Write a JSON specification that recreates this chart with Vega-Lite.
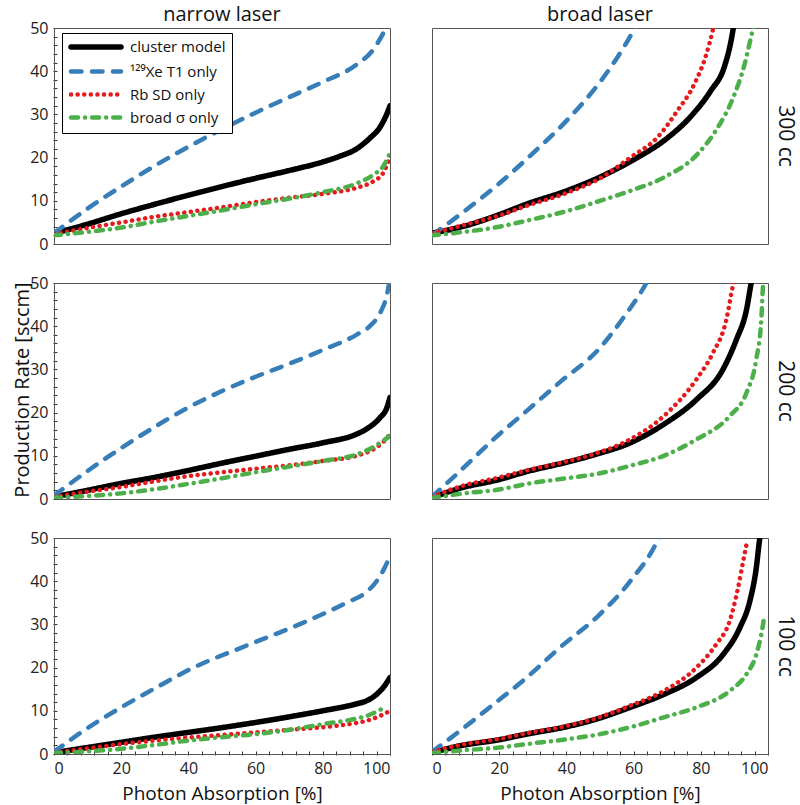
{
"$schema":"https://vega.github.io/schema/vega-lite/v6.json",
"padding":{"left":12,"top":5,"right":10,"bottom":5},
"background":"white",
"title":{"text":"Production Rate [sccm]","orient":"left","anchor":"middle","fontSize":20,"fontWeight":"normal","font":"Open Sans","color":"#111","offset":-3,"dx":14},
"data":{"values":[
{"laser":"narrow laser","cell":"300 cc","model":"cluster model","x":0,"y":2.5},
{"laser":"narrow laser","cell":"300 cc","model":"cluster model","x":5,"y":3.5},
{"laser":"narrow laser","cell":"300 cc","model":"cluster model","x":10,"y":4.6},
{"laser":"narrow laser","cell":"300 cc","model":"cluster model","x":20,"y":7},
{"laser":"narrow laser","cell":"300 cc","model":"cluster model","x":30,"y":9.2},
{"laser":"narrow laser","cell":"300 cc","model":"cluster model","x":40,"y":11.3},
{"laser":"narrow laser","cell":"300 cc","model":"cluster model","x":50,"y":13.3},
{"laser":"narrow laser","cell":"300 cc","model":"cluster model","x":60,"y":15.2},
{"laser":"narrow laser","cell":"300 cc","model":"cluster model","x":70,"y":17},
{"laser":"narrow laser","cell":"300 cc","model":"cluster model","x":80,"y":19},
{"laser":"narrow laser","cell":"300 cc","model":"cluster model","x":85,"y":20.3},
{"laser":"narrow laser","cell":"300 cc","model":"cluster model","x":90,"y":22},
{"laser":"narrow laser","cell":"300 cc","model":"cluster model","x":94,"y":24.5},
{"laser":"narrow laser","cell":"300 cc","model":"cluster model","x":97,"y":27},
{"laser":"narrow laser","cell":"300 cc","model":"cluster model","x":99,"y":30},
{"laser":"narrow laser","cell":"300 cc","model":"cluster model","x":100,"y":32},
{"laser":"narrow laser","cell":"300 cc","model":"¹²⁹Xe T1 only","x":0,"y":2.5},
{"laser":"narrow laser","cell":"300 cc","model":"¹²⁹Xe T1 only","x":10,"y":8.2},
{"laser":"narrow laser","cell":"300 cc","model":"¹²⁹Xe T1 only","x":20,"y":13.3},
{"laser":"narrow laser","cell":"300 cc","model":"¹²⁹Xe T1 only","x":30,"y":18.1},
{"laser":"narrow laser","cell":"300 cc","model":"¹²⁹Xe T1 only","x":40,"y":22.5},
{"laser":"narrow laser","cell":"300 cc","model":"¹²⁹Xe T1 only","x":50,"y":26.6},
{"laser":"narrow laser","cell":"300 cc","model":"¹²⁹Xe T1 only","x":60,"y":30.4},
{"laser":"narrow laser","cell":"300 cc","model":"¹²⁹Xe T1 only","x":70,"y":34},
{"laser":"narrow laser","cell":"300 cc","model":"¹²⁹Xe T1 only","x":80,"y":37.5},
{"laser":"narrow laser","cell":"300 cc","model":"¹²⁹Xe T1 only","x":90,"y":41.5},
{"laser":"narrow laser","cell":"300 cc","model":"¹²⁹Xe T1 only","x":95,"y":45},
{"laser":"narrow laser","cell":"300 cc","model":"¹²⁹Xe T1 only","x":98,"y":48.8},
{"laser":"narrow laser","cell":"300 cc","model":"¹²⁹Xe T1 only","x":100,"y":52},
{"laser":"narrow laser","cell":"300 cc","model":"Rb SD only","x":0,"y":2.3},
{"laser":"narrow laser","cell":"300 cc","model":"Rb SD only","x":10,"y":3.7},
{"laser":"narrow laser","cell":"300 cc","model":"Rb SD only","x":20,"y":5},
{"laser":"narrow laser","cell":"300 cc","model":"Rb SD only","x":30,"y":6.3},
{"laser":"narrow laser","cell":"300 cc","model":"Rb SD only","x":40,"y":7.4},
{"laser":"narrow laser","cell":"300 cc","model":"Rb SD only","x":50,"y":8.5},
{"laser":"narrow laser","cell":"300 cc","model":"Rb SD only","x":60,"y":9.7},
{"laser":"narrow laser","cell":"300 cc","model":"Rb SD only","x":70,"y":10.7},
{"laser":"narrow laser","cell":"300 cc","model":"Rb SD only","x":80,"y":11.6},
{"laser":"narrow laser","cell":"300 cc","model":"Rb SD only","x":90,"y":13},
{"laser":"narrow laser","cell":"300 cc","model":"Rb SD only","x":95,"y":14.5},
{"laser":"narrow laser","cell":"300 cc","model":"Rb SD only","x":98,"y":16.5},
{"laser":"narrow laser","cell":"300 cc","model":"Rb SD only","x":100,"y":20},
{"laser":"narrow laser","cell":"300 cc","model":"broad σ only","x":0,"y":2},
{"laser":"narrow laser","cell":"300 cc","model":"broad σ only","x":10,"y":2.8},
{"laser":"narrow laser","cell":"300 cc","model":"broad σ only","x":20,"y":3.8},
{"laser":"narrow laser","cell":"300 cc","model":"broad σ only","x":30,"y":5.2},
{"laser":"narrow laser","cell":"300 cc","model":"broad σ only","x":40,"y":6.5},
{"laser":"narrow laser","cell":"300 cc","model":"broad σ only","x":50,"y":7.8},
{"laser":"narrow laser","cell":"300 cc","model":"broad σ only","x":60,"y":9.2},
{"laser":"narrow laser","cell":"300 cc","model":"broad σ only","x":70,"y":10.5},
{"laser":"narrow laser","cell":"300 cc","model":"broad σ only","x":80,"y":12},
{"laser":"narrow laser","cell":"300 cc","model":"broad σ only","x":90,"y":14},
{"laser":"narrow laser","cell":"300 cc","model":"broad σ only","x":95,"y":16},
{"laser":"narrow laser","cell":"300 cc","model":"broad σ only","x":98,"y":18},
{"laser":"narrow laser","cell":"300 cc","model":"broad σ only","x":100,"y":21},

{"laser":"broad laser","cell":"300 cc","model":"cluster model","x":0,"y":2.5},
{"laser":"broad laser","cell":"300 cc","model":"cluster model","x":8,"y":3.8},
{"laser":"broad laser","cell":"300 cc","model":"cluster model","x":20,"y":6.8},
{"laser":"broad laser","cell":"300 cc","model":"cluster model","x":28,"y":9.2},
{"laser":"broad laser","cell":"300 cc","model":"cluster model","x":40,"y":12.3},
{"laser":"broad laser","cell":"300 cc","model":"cluster model","x":50,"y":15.5},
{"laser":"broad laser","cell":"300 cc","model":"cluster model","x":60,"y":19.5},
{"laser":"broad laser","cell":"300 cc","model":"cluster model","x":70,"y":24.5},
{"laser":"broad laser","cell":"300 cc","model":"cluster model","x":77,"y":29.5},
{"laser":"broad laser","cell":"300 cc","model":"cluster model","x":83,"y":35.5},
{"laser":"broad laser","cell":"300 cc","model":"cluster model","x":87,"y":41},
{"laser":"broad laser","cell":"300 cc","model":"cluster model","x":89,"y":47},
{"laser":"broad laser","cell":"300 cc","model":"cluster model","x":90,"y":51.5},
{"laser":"broad laser","cell":"300 cc","model":"¹²⁹Xe T1 only","x":0,"y":2},
{"laser":"broad laser","cell":"300 cc","model":"¹²⁹Xe T1 only","x":10,"y":7.8},
{"laser":"broad laser","cell":"300 cc","model":"¹²⁹Xe T1 only","x":20,"y":14},
{"laser":"broad laser","cell":"300 cc","model":"¹²⁹Xe T1 only","x":30,"y":21},
{"laser":"broad laser","cell":"300 cc","model":"¹²⁹Xe T1 only","x":40,"y":28.5},
{"laser":"broad laser","cell":"300 cc","model":"¹²⁹Xe T1 only","x":50,"y":37.5},
{"laser":"broad laser","cell":"300 cc","model":"¹²⁹Xe T1 only","x":55,"y":43},
{"laser":"broad laser","cell":"300 cc","model":"¹²⁹Xe T1 only","x":60,"y":49.5},
{"laser":"broad laser","cell":"300 cc","model":"¹²⁹Xe T1 only","x":61,"y":51},
{"laser":"broad laser","cell":"300 cc","model":"Rb SD only","x":0,"y":2.5},
{"laser":"broad laser","cell":"300 cc","model":"Rb SD only","x":10,"y":4.5},
{"laser":"broad laser","cell":"300 cc","model":"Rb SD only","x":20,"y":6.6},
{"laser":"broad laser","cell":"300 cc","model":"Rb SD only","x":28,"y":8.8},
{"laser":"broad laser","cell":"300 cc","model":"Rb SD only","x":40,"y":11.8},
{"laser":"broad laser","cell":"300 cc","model":"Rb SD only","x":50,"y":15.2},
{"laser":"broad laser","cell":"300 cc","model":"Rb SD only","x":59,"y":20},
{"laser":"broad laser","cell":"300 cc","model":"Rb SD only","x":67,"y":24.6},
{"laser":"broad laser","cell":"300 cc","model":"Rb SD only","x":73,"y":30.8},
{"laser":"broad laser","cell":"300 cc","model":"Rb SD only","x":78,"y":36.9},
{"laser":"broad laser","cell":"300 cc","model":"Rb SD only","x":81.6,"y":43.8},
{"laser":"broad laser","cell":"300 cc","model":"Rb SD only","x":83.6,"y":49.6},
{"laser":"broad laser","cell":"300 cc","model":"Rb SD only","x":84,"y":51},
{"laser":"broad laser","cell":"300 cc","model":"broad σ only","x":0,"y":2},
{"laser":"broad laser","cell":"300 cc","model":"broad σ only","x":8.4,"y":2.7},
{"laser":"broad laser","cell":"300 cc","model":"broad σ only","x":20,"y":4},
{"laser":"broad laser","cell":"300 cc","model":"broad σ only","x":28.2,"y":5.4},
{"laser":"broad laser","cell":"300 cc","model":"broad σ only","x":40,"y":7.6},
{"laser":"broad laser","cell":"300 cc","model":"broad σ only","x":50,"y":10},
{"laser":"broad laser","cell":"300 cc","model":"broad σ only","x":59,"y":12.3},
{"laser":"broad laser","cell":"300 cc","model":"broad σ only","x":69,"y":15.4},
{"laser":"broad laser","cell":"300 cc","model":"broad σ only","x":79,"y":20.8},
{"laser":"broad laser","cell":"300 cc","model":"broad σ only","x":85,"y":26.9},
{"laser":"broad laser","cell":"300 cc","model":"broad σ only","x":89.6,"y":33.8},
{"laser":"broad laser","cell":"300 cc","model":"broad σ only","x":93,"y":41.5},
{"laser":"broad laser","cell":"300 cc","model":"broad σ only","x":95.5,"y":49.6},
{"laser":"broad laser","cell":"300 cc","model":"broad σ only","x":96,"y":51},

{"laser":"narrow laser","cell":"200 cc","model":"cluster model","x":0,"y":0.5},
{"laser":"narrow laser","cell":"200 cc","model":"cluster model","x":10,"y":2},
{"laser":"narrow laser","cell":"200 cc","model":"cluster model","x":20,"y":3.6},
{"laser":"narrow laser","cell":"200 cc","model":"cluster model","x":30,"y":5},
{"laser":"narrow laser","cell":"200 cc","model":"cluster model","x":40,"y":6.6},
{"laser":"narrow laser","cell":"200 cc","model":"cluster model","x":50,"y":8.3},
{"laser":"narrow laser","cell":"200 cc","model":"cluster model","x":60,"y":9.9},
{"laser":"narrow laser","cell":"200 cc","model":"cluster model","x":70,"y":11.5},
{"laser":"narrow laser","cell":"200 cc","model":"cluster model","x":80,"y":13},
{"laser":"narrow laser","cell":"200 cc","model":"cluster model","x":90,"y":15},
{"laser":"narrow laser","cell":"200 cc","model":"cluster model","x":93,"y":16.2},
{"laser":"narrow laser","cell":"200 cc","model":"cluster model","x":97,"y":18.8},
{"laser":"narrow laser","cell":"200 cc","model":"cluster model","x":99,"y":21},
{"laser":"narrow laser","cell":"200 cc","model":"cluster model","x":100,"y":23.5},
{"laser":"narrow laser","cell":"200 cc","model":"¹²⁹Xe T1 only","x":0,"y":0.8},
{"laser":"narrow laser","cell":"200 cc","model":"¹²⁹Xe T1 only","x":10,"y":6.5},
{"laser":"narrow laser","cell":"200 cc","model":"¹²⁹Xe T1 only","x":20,"y":11.8},
{"laser":"narrow laser","cell":"200 cc","model":"¹²⁹Xe T1 only","x":30,"y":16.7},
{"laser":"narrow laser","cell":"200 cc","model":"¹²⁹Xe T1 only","x":40,"y":21.2},
{"laser":"narrow laser","cell":"200 cc","model":"¹²⁹Xe T1 only","x":50,"y":25},
{"laser":"narrow laser","cell":"200 cc","model":"¹²⁹Xe T1 only","x":60,"y":28.3},
{"laser":"narrow laser","cell":"200 cc","model":"¹²⁹Xe T1 only","x":70,"y":31.3},
{"laser":"narrow laser","cell":"200 cc","model":"¹²⁹Xe T1 only","x":80,"y":34.5},
{"laser":"narrow laser","cell":"200 cc","model":"¹²⁹Xe T1 only","x":90,"y":38},
{"laser":"narrow laser","cell":"200 cc","model":"¹²⁹Xe T1 only","x":94,"y":40},
{"laser":"narrow laser","cell":"200 cc","model":"¹²⁹Xe T1 only","x":97,"y":43},
{"laser":"narrow laser","cell":"200 cc","model":"¹²⁹Xe T1 only","x":99,"y":47},
{"laser":"narrow laser","cell":"200 cc","model":"¹²⁹Xe T1 only","x":100,"y":51},
{"laser":"narrow laser","cell":"200 cc","model":"Rb SD only","x":0,"y":0.5},
{"laser":"narrow laser","cell":"200 cc","model":"Rb SD only","x":10,"y":1.7},
{"laser":"narrow laser","cell":"200 cc","model":"Rb SD only","x":20,"y":2.8},
{"laser":"narrow laser","cell":"200 cc","model":"Rb SD only","x":30,"y":4.1},
{"laser":"narrow laser","cell":"200 cc","model":"Rb SD only","x":40,"y":5.3},
{"laser":"narrow laser","cell":"200 cc","model":"Rb SD only","x":50,"y":6.2},
{"laser":"narrow laser","cell":"200 cc","model":"Rb SD only","x":60,"y":7},
{"laser":"narrow laser","cell":"200 cc","model":"Rb SD only","x":70,"y":7.8},
{"laser":"narrow laser","cell":"200 cc","model":"Rb SD only","x":80,"y":8.8},
{"laser":"narrow laser","cell":"200 cc","model":"Rb SD only","x":90,"y":10},
{"laser":"narrow laser","cell":"200 cc","model":"Rb SD only","x":95,"y":11.5},
{"laser":"narrow laser","cell":"200 cc","model":"Rb SD only","x":98,"y":13.2},
{"laser":"narrow laser","cell":"200 cc","model":"Rb SD only","x":100,"y":15},
{"laser":"narrow laser","cell":"200 cc","model":"broad σ only","x":0,"y":0.3},
{"laser":"narrow laser","cell":"200 cc","model":"broad σ only","x":10,"y":0.7},
{"laser":"narrow laser","cell":"200 cc","model":"broad σ only","x":20,"y":1.3},
{"laser":"narrow laser","cell":"200 cc","model":"broad σ only","x":30,"y":2.3},
{"laser":"narrow laser","cell":"200 cc","model":"broad σ only","x":40,"y":3.5},
{"laser":"narrow laser","cell":"200 cc","model":"broad σ only","x":50,"y":4.8},
{"laser":"narrow laser","cell":"200 cc","model":"broad σ only","x":60,"y":6.2},
{"laser":"narrow laser","cell":"200 cc","model":"broad σ only","x":70,"y":7.5},
{"laser":"narrow laser","cell":"200 cc","model":"broad σ only","x":80,"y":8.8},
{"laser":"narrow laser","cell":"200 cc","model":"broad σ only","x":90,"y":10.3},
{"laser":"narrow laser","cell":"200 cc","model":"broad σ only","x":95,"y":12},
{"laser":"narrow laser","cell":"200 cc","model":"broad σ only","x":98,"y":13.5},
{"laser":"narrow laser","cell":"200 cc","model":"broad σ only","x":100,"y":14.6},

{"laser":"broad laser","cell":"200 cc","model":"cluster model","x":0,"y":0.3},
{"laser":"broad laser","cell":"200 cc","model":"cluster model","x":8.4,"y":2.5},
{"laser":"broad laser","cell":"200 cc","model":"cluster model","x":20,"y":4.5},
{"laser":"broad laser","cell":"200 cc","model":"cluster model","x":28,"y":6.3},
{"laser":"broad laser","cell":"200 cc","model":"cluster model","x":40,"y":8.5},
{"laser":"broad laser","cell":"200 cc","model":"cluster model","x":49,"y":10.4},
{"laser":"broad laser","cell":"200 cc","model":"cluster model","x":59,"y":13},
{"laser":"broad laser","cell":"200 cc","model":"cluster model","x":69,"y":17.3},
{"laser":"broad laser","cell":"200 cc","model":"cluster model","x":78.7,"y":23},
{"laser":"broad laser","cell":"200 cc","model":"cluster model","x":86.6,"y":30},
{"laser":"broad laser","cell":"200 cc","model":"cluster model","x":90.6,"y":36.9},
{"laser":"broad laser","cell":"200 cc","model":"cluster model","x":93.6,"y":43.8},
{"laser":"broad laser","cell":"200 cc","model":"cluster model","x":95,"y":50},
{"laser":"broad laser","cell":"200 cc","model":"cluster model","x":95.5,"y":52},
{"laser":"broad laser","cell":"200 cc","model":"¹²⁹Xe T1 only","x":0,"y":0.5},
{"laser":"broad laser","cell":"200 cc","model":"¹²⁹Xe T1 only","x":8.4,"y":6.5},
{"laser":"broad laser","cell":"200 cc","model":"¹²⁹Xe T1 only","x":18.3,"y":13.8},
{"laser":"broad laser","cell":"200 cc","model":"¹²⁹Xe T1 only","x":28.2,"y":20.4},
{"laser":"broad laser","cell":"200 cc","model":"¹²⁹Xe T1 only","x":38,"y":27},
{"laser":"broad laser","cell":"200 cc","model":"¹²⁹Xe T1 only","x":50,"y":35},
{"laser":"broad laser","cell":"200 cc","model":"¹²⁹Xe T1 only","x":57,"y":42},
{"laser":"broad laser","cell":"200 cc","model":"¹²⁹Xe T1 only","x":63.8,"y":50},
{"laser":"broad laser","cell":"200 cc","model":"¹²⁹Xe T1 only","x":64.5,"y":51},
{"laser":"broad laser","cell":"200 cc","model":"Rb SD only","x":0,"y":0.5},
{"laser":"broad laser","cell":"200 cc","model":"Rb SD only","x":8.4,"y":2.9},
{"laser":"broad laser","cell":"200 cc","model":"Rb SD only","x":20,"y":5},
{"laser":"broad laser","cell":"200 cc","model":"Rb SD only","x":28,"y":6.6},
{"laser":"broad laser","cell":"200 cc","model":"Rb SD only","x":40,"y":8.7},
{"laser":"broad laser","cell":"200 cc","model":"Rb SD only","x":49,"y":10.6},
{"laser":"broad laser","cell":"200 cc","model":"Rb SD only","x":59,"y":13.8},
{"laser":"broad laser","cell":"200 cc","model":"Rb SD only","x":69,"y":19.2},
{"laser":"broad laser","cell":"200 cc","model":"Rb SD only","x":78.7,"y":27.7},
{"laser":"broad laser","cell":"200 cc","model":"Rb SD only","x":83.6,"y":33.8},
{"laser":"broad laser","cell":"200 cc","model":"Rb SD only","x":87.6,"y":41.5},
{"laser":"broad laser","cell":"200 cc","model":"Rb SD only","x":89.6,"y":49.6},
{"laser":"broad laser","cell":"200 cc","model":"Rb SD only","x":90,"y":51},
{"laser":"broad laser","cell":"200 cc","model":"broad σ only","x":0,"y":0.2},
{"laser":"broad laser","cell":"200 cc","model":"broad σ only","x":8.4,"y":1.2},
{"laser":"broad laser","cell":"200 cc","model":"broad σ only","x":20,"y":2.2},
{"laser":"broad laser","cell":"200 cc","model":"broad σ only","x":28.2,"y":3.5},
{"laser":"broad laser","cell":"200 cc","model":"broad σ only","x":40,"y":4.8},
{"laser":"broad laser","cell":"200 cc","model":"broad σ only","x":49,"y":5.8},
{"laser":"broad laser","cell":"200 cc","model":"broad σ only","x":59,"y":7.7},
{"laser":"broad laser","cell":"200 cc","model":"broad σ only","x":69,"y":10},
{"laser":"broad laser","cell":"200 cc","model":"broad σ only","x":78.7,"y":13.8},
{"laser":"broad laser","cell":"200 cc","model":"broad σ only","x":88.6,"y":19.2},
{"laser":"broad laser","cell":"200 cc","model":"broad σ only","x":93.6,"y":24.6},
{"laser":"broad laser","cell":"200 cc","model":"broad σ only","x":96.5,"y":32.3},
{"laser":"broad laser","cell":"200 cc","model":"broad σ only","x":98,"y":41.5},
{"laser":"broad laser","cell":"200 cc","model":"broad σ only","x":98.5,"y":49.2},
{"laser":"broad laser","cell":"200 cc","model":"broad σ only","x":98.7,"y":51},

{"laser":"narrow laser","cell":"100 cc","model":"cluster model","x":0,"y":0.3},
{"laser":"narrow laser","cell":"100 cc","model":"cluster model","x":10,"y":1.5},
{"laser":"narrow laser","cell":"100 cc","model":"cluster model","x":20,"y":2.7},
{"laser":"narrow laser","cell":"100 cc","model":"cluster model","x":30,"y":3.9},
{"laser":"narrow laser","cell":"100 cc","model":"cluster model","x":40,"y":5},
{"laser":"narrow laser","cell":"100 cc","model":"cluster model","x":50,"y":6.1},
{"laser":"narrow laser","cell":"100 cc","model":"cluster model","x":60,"y":7.3},
{"laser":"narrow laser","cell":"100 cc","model":"cluster model","x":70,"y":8.6},
{"laser":"narrow laser","cell":"100 cc","model":"cluster model","x":80,"y":10},
{"laser":"narrow laser","cell":"100 cc","model":"cluster model","x":90,"y":11.6},
{"laser":"narrow laser","cell":"100 cc","model":"cluster model","x":93,"y":12.3},
{"laser":"narrow laser","cell":"100 cc","model":"cluster model","x":96,"y":13.8},
{"laser":"narrow laser","cell":"100 cc","model":"cluster model","x":98,"y":15.4},
{"laser":"narrow laser","cell":"100 cc","model":"cluster model","x":100,"y":17.7},
{"laser":"narrow laser","cell":"100 cc","model":"¹²⁹Xe T1 only","x":0,"y":0.5},
{"laser":"narrow laser","cell":"100 cc","model":"¹²⁹Xe T1 only","x":10,"y":6},
{"laser":"narrow laser","cell":"100 cc","model":"¹²⁹Xe T1 only","x":20,"y":10.8},
{"laser":"narrow laser","cell":"100 cc","model":"¹²⁹Xe T1 only","x":30,"y":15.2},
{"laser":"narrow laser","cell":"100 cc","model":"¹²⁹Xe T1 only","x":41,"y":19.8},
{"laser":"narrow laser","cell":"100 cc","model":"¹²⁹Xe T1 only","x":57,"y":25},
{"laser":"narrow laser","cell":"100 cc","model":"¹²⁹Xe T1 only","x":73,"y":30},
{"laser":"narrow laser","cell":"100 cc","model":"¹²⁹Xe T1 only","x":87,"y":35},
{"laser":"narrow laser","cell":"100 cc","model":"¹²⁹Xe T1 only","x":93,"y":37.5},
{"laser":"narrow laser","cell":"100 cc","model":"¹²⁹Xe T1 only","x":96,"y":40},
{"laser":"narrow laser","cell":"100 cc","model":"¹²⁹Xe T1 only","x":98,"y":42.5},
{"laser":"narrow laser","cell":"100 cc","model":"¹²⁹Xe T1 only","x":99.5,"y":45},
{"laser":"narrow laser","cell":"100 cc","model":"¹²⁹Xe T1 only","x":100,"y":46},
{"laser":"narrow laser","cell":"100 cc","model":"Rb SD only","x":0,"y":0.3},
{"laser":"narrow laser","cell":"100 cc","model":"Rb SD only","x":10,"y":1.3},
{"laser":"narrow laser","cell":"100 cc","model":"Rb SD only","x":20,"y":2.3},
{"laser":"narrow laser","cell":"100 cc","model":"Rb SD only","x":30,"y":3.1},
{"laser":"narrow laser","cell":"100 cc","model":"Rb SD only","x":40,"y":3.8},
{"laser":"narrow laser","cell":"100 cc","model":"Rb SD only","x":50,"y":4.4},
{"laser":"narrow laser","cell":"100 cc","model":"Rb SD only","x":60,"y":5},
{"laser":"narrow laser","cell":"100 cc","model":"Rb SD only","x":70,"y":5.6},
{"laser":"narrow laser","cell":"100 cc","model":"Rb SD only","x":80,"y":6.2},
{"laser":"narrow laser","cell":"100 cc","model":"Rb SD only","x":90,"y":7.2},
{"laser":"narrow laser","cell":"100 cc","model":"Rb SD only","x":93,"y":7.7},
{"laser":"narrow laser","cell":"100 cc","model":"Rb SD only","x":97,"y":8.8},
{"laser":"narrow laser","cell":"100 cc","model":"Rb SD only","x":100,"y":10},
{"laser":"narrow laser","cell":"100 cc","model":"broad σ only","x":0,"y":0.2},
{"laser":"narrow laser","cell":"100 cc","model":"broad σ only","x":10,"y":0.6},
{"laser":"narrow laser","cell":"100 cc","model":"broad σ only","x":20,"y":1.2},
{"laser":"narrow laser","cell":"100 cc","model":"broad σ only","x":30,"y":2.1},
{"laser":"narrow laser","cell":"100 cc","model":"broad σ only","x":40,"y":3.1},
{"laser":"narrow laser","cell":"100 cc","model":"broad σ only","x":50,"y":3.9},
{"laser":"narrow laser","cell":"100 cc","model":"broad σ only","x":60,"y":4.6},
{"laser":"narrow laser","cell":"100 cc","model":"broad σ only","x":70,"y":5.6},
{"laser":"narrow laser","cell":"100 cc","model":"broad σ only","x":80,"y":6.9},
{"laser":"narrow laser","cell":"100 cc","model":"broad σ only","x":90,"y":8.2},
{"laser":"narrow laser","cell":"100 cc","model":"broad σ only","x":93,"y":8.8},
{"laser":"narrow laser","cell":"100 cc","model":"broad σ only","x":97,"y":10.2},
{"laser":"narrow laser","cell":"100 cc","model":"broad σ only","x":98.5,"y":10.8},

{"laser":"broad laser","cell":"100 cc","model":"cluster model","x":0,"y":0.3},
{"laser":"broad laser","cell":"100 cc","model":"cluster model","x":8.4,"y":1.9},
{"laser":"broad laser","cell":"100 cc","model":"cluster model","x":20,"y":3.3},
{"laser":"broad laser","cell":"100 cc","model":"cluster model","x":28.2,"y":4.6},
{"laser":"broad laser","cell":"100 cc","model":"cluster model","x":40,"y":6.3},
{"laser":"broad laser","cell":"100 cc","model":"cluster model","x":49,"y":8.1},
{"laser":"broad laser","cell":"100 cc","model":"cluster model","x":59,"y":10.8},
{"laser":"broad laser","cell":"100 cc","model":"cluster model","x":69,"y":13.8},
{"laser":"broad laser","cell":"100 cc","model":"cluster model","x":78.7,"y":17.7},
{"laser":"broad laser","cell":"100 cc","model":"cluster model","x":86.6,"y":23},
{"laser":"broad laser","cell":"100 cc","model":"cluster model","x":91.6,"y":29.2},
{"laser":"broad laser","cell":"100 cc","model":"cluster model","x":94.6,"y":35.4},
{"laser":"broad laser","cell":"100 cc","model":"cluster model","x":96.5,"y":43},
{"laser":"broad laser","cell":"100 cc","model":"cluster model","x":97.5,"y":49.6},
{"laser":"broad laser","cell":"100 cc","model":"cluster model","x":98,"y":52},
{"laser":"broad laser","cell":"100 cc","model":"¹²⁹Xe T1 only","x":0,"y":0.5},
{"laser":"broad laser","cell":"100 cc","model":"¹²⁹Xe T1 only","x":8.4,"y":5.4},
{"laser":"broad laser","cell":"100 cc","model":"¹²⁹Xe T1 only","x":18.3,"y":11.5},
{"laser":"broad laser","cell":"100 cc","model":"¹²⁹Xe T1 only","x":28.2,"y":17.7},
{"laser":"broad laser","cell":"100 cc","model":"¹²⁹Xe T1 only","x":38,"y":24.6},
{"laser":"broad laser","cell":"100 cc","model":"¹²⁹Xe T1 only","x":49.5,"y":32},
{"laser":"broad laser","cell":"100 cc","model":"¹²⁹Xe T1 only","x":59,"y":40},
{"laser":"broad laser","cell":"100 cc","model":"¹²⁹Xe T1 only","x":67.2,"y":49.6},
{"laser":"broad laser","cell":"100 cc","model":"¹²⁹Xe T1 only","x":68,"y":51},
{"laser":"broad laser","cell":"100 cc","model":"Rb SD only","x":0,"y":0.5},
{"laser":"broad laser","cell":"100 cc","model":"Rb SD only","x":8.4,"y":2.1},
{"laser":"broad laser","cell":"100 cc","model":"Rb SD only","x":20,"y":3.5},
{"laser":"broad laser","cell":"100 cc","model":"Rb SD only","x":28.2,"y":4.8},
{"laser":"broad laser","cell":"100 cc","model":"Rb SD only","x":40,"y":6.5},
{"laser":"broad laser","cell":"100 cc","model":"Rb SD only","x":49,"y":8.3},
{"laser":"broad laser","cell":"100 cc","model":"Rb SD only","x":59,"y":11.2},
{"laser":"broad laser","cell":"100 cc","model":"Rb SD only","x":69,"y":14.6},
{"laser":"broad laser","cell":"100 cc","model":"Rb SD only","x":78.7,"y":20},
{"laser":"broad laser","cell":"100 cc","model":"Rb SD only","x":84.6,"y":25.4},
{"laser":"broad laser","cell":"100 cc","model":"Rb SD only","x":88.6,"y":30.8},
{"laser":"broad laser","cell":"100 cc","model":"Rb SD only","x":91.1,"y":38.5},
{"laser":"broad laser","cell":"100 cc","model":"Rb SD only","x":92.6,"y":44.6},
{"laser":"broad laser","cell":"100 cc","model":"Rb SD only","x":93.6,"y":48.5},
{"laser":"broad laser","cell":"100 cc","model":"broad σ only","x":0,"y":0.2},
{"laser":"broad laser","cell":"100 cc","model":"broad σ only","x":8.4,"y":0.8},
{"laser":"broad laser","cell":"100 cc","model":"broad σ only","x":20,"y":1.5},
{"laser":"broad laser","cell":"100 cc","model":"broad σ only","x":28.2,"y":2.3},
{"laser":"broad laser","cell":"100 cc","model":"broad σ only","x":40,"y":3.4},
{"laser":"broad laser","cell":"100 cc","model":"broad σ only","x":50,"y":4.6},
{"laser":"broad laser","cell":"100 cc","model":"broad σ only","x":59,"y":6.2},
{"laser":"broad laser","cell":"100 cc","model":"broad σ only","x":69,"y":8.5},
{"laser":"broad laser","cell":"100 cc","model":"broad σ only","x":78.7,"y":10.8},
{"laser":"broad laser","cell":"100 cc","model":"broad σ only","x":88.6,"y":14.6},
{"laser":"broad laser","cell":"100 cc","model":"broad σ only","x":93.6,"y":18.5},
{"laser":"broad laser","cell":"100 cc","model":"broad σ only","x":96.5,"y":23},
{"laser":"broad laser","cell":"100 cc","model":"broad σ only","x":98,"y":27.7},
{"laser":"broad laser","cell":"100 cc","model":"broad σ only","x":99,"y":32.3}
]},
"facet":{
  "row":{"field":"cell","type":"nominal","sort":["300 cc","200 cc","100 cc"],
    "header":{"title":null,"labelOrient":"right","labelAngle":90,"labelFontSize":21,"labelFont":"Open Sans","labelColor":"#111","labelPadding":-5,"labelAlign":"center","labelBaseline":"middle"}},
  "column":{"field":"laser","type":"nominal","sort":["narrow laser","broad laser"],
    "header":{"title":null,"labelFontSize":20,"labelFont":"Open Sans","labelColor":"#111","labelPadding":2}}
},
"spacing":{"row":37,"column":40},
"spec":{
  "width":336,"height":216,
  "mark":{"type":"line","clip":true,"strokeCap":"round","interpolate":"monotone"},
  "encoding":{
    "x":{"field":"x","type":"quantitative","scale":{"domain":[0,100],"nice":false},
      "axis":{"title":"Photon Absorption [%]","values":[0,4,8,12,16,20,24,28,32,36,40,44,48,52,56,60,64,68,72,76,80,84,88,92,96,100],
        "labelExpr":"datum.value % 20 === 0 ? datum.label : ''"}},
    "y":{"field":"y","type":"quantitative","scale":{"domain":[0,50],"nice":false},
      "axis":{"title":null,"values":[0,2,4,6,8,10,12,14,16,18,20,22,24,26,28,30,32,34,36,38,40,42,44,46,48,50],
        "labelExpr":"datum.value % 10 === 0 ? datum.label : ''"}},
    "color":{"field":"model","type":"nominal",
      "scale":{"domain":["cluster model","¹²⁹Xe T1 only","Rb SD only","broad σ only"],"range":["#000000","#377eb8","#e41a1c","#4daf4a"]},
      "legend":{"title":null,"orient":"none","legendX":8,"legendY":5,"symbolType":"M-5,0H5","symbolSize":100,"symbolStrokeWidth":4.5,"symbolOffset":20,"labelFontSize":15,"labelFont":"Open Sans","labelColor":"#111","rowPadding":4,"padding":6,"strokeColor":"#000","fillColor":"white","labelOffset":26,
        "encoding":{"symbols":{"strokeCap":{"value":"round"}}}}},
    "strokeDash":{"field":"model","type":"nominal",
      "scale":{"domain":["cluster model","¹²⁹Xe T1 only","Rb SD only","broad σ only"],"range":[[1,0],[10.5,10.5],[0.1,6.5],[7,7,0.1,7]]},
      "legend":{"title":null,"orient":"none","legendX":8,"legendY":5,"symbolType":"M-5,0H5","symbolSize":100,"symbolStrokeWidth":4.5,"symbolOffset":20,"labelFontSize":15,"labelFont":"Open Sans","labelColor":"#111","rowPadding":4,"padding":6,"strokeColor":"#000","fillColor":"white","labelOffset":26,
        "encoding":{"symbols":{"strokeCap":{"value":"round"}}}}},
    "strokeWidth":{"field":"model","type":"nominal","scale":{"type":"ordinal","domain":["cluster model","¹²⁹Xe T1 only","Rb SD only","broad σ only"],"range":[5.5,4.5,4.5,4.5]},"legend":null}
  }
},
"config":{
  "font":"Open Sans",
  "view":{"stroke":"#555","strokeWidth":1},
  "axis":{"domain":false,"grid":false,"ticks":true,"tickSize":-4,"tickColor":"#333","tickWidth":1,"labelPadding":9,"labelOverlap":false,"labelFont":"Open Sans","labelFontSize":16,"labelColor":"#222","titleFont":"Open Sans","titleFontSize":19,"titleColor":"#111","titleFontWeight":"normal"},
  "axisX":{"titlePadding":8},
  "axisY":{"titlePadding":4}
}
}
